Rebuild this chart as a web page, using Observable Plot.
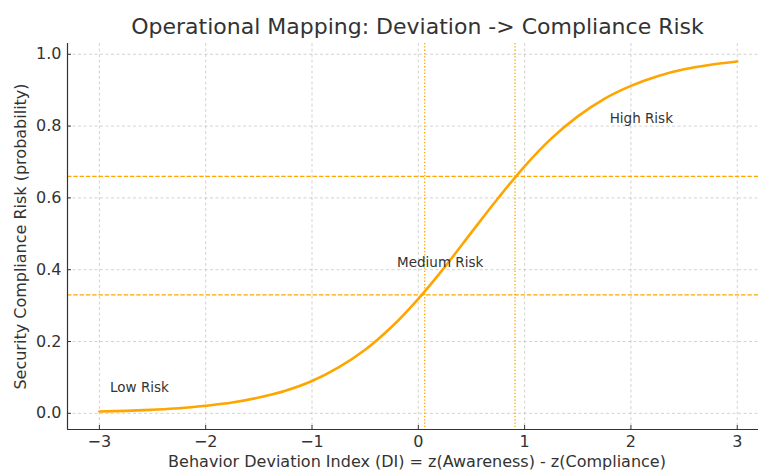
<!DOCTYPE html>
<html>
<head>
<meta charset="utf-8">
<script src="https://cdn.jsdelivr.net/npm/d3@7"></script>
<script src="https://cdn.jsdelivr.net/npm/@observablehq/plot@0.6"></script>
<style>
  html, body { margin: 0; padding: 0; background: #fff; }
  #chart svg { display: block; }
</style>
</head>
<body>
<div id="chart"></div>
<script>
// Behavior Deviation Index values (x) and read-off risk probabilities (y)
const diValues = [-3, -2.75, -2.5, -2.25, -2, -1.75, -1.5, -1.25, -1, -0.75, -0.5, -0.25, 0,
                  0.25, 0.5, 0.75, 1, 1.25, 1.5, 1.75, 2, 2.25, 2.5, 2.75, 3];
const riskValues = [0.005, 0.007, 0.010, 0.014, 0.021, 0.030, 0.044, 0.063, 0.090, 0.128, 0.177, 0.241, 0.319,
                    0.408, 0.504, 0.599, 0.688, 0.765, 0.827, 0.876, 0.912, 0.939, 0.958, 0.971, 0.980];

// Risk thresholds (probability) and corresponding DI cut points
const riskThresholds = [0.33, 0.66];
const diCutPoints = [0.06, 0.91];

// Zone labels
const zoneLabels = ["Low Risk", "Medium Risk", "High Risk"];
const zoneLabelX = [-2.9, -0.2, 1.8];
const zoneLabelY = [0.05, 0.4, 0.8];

// Tick values
const xTicks = [-3, -2, -1, 0, 1, 2, 3];
const yTicks = [0, 0.2, 0.4, 0.6, 0.8, 1.0];

const title = "Operational Mapping: Deviation -> Compliance Risk";
const xLabel = "Behavior Deviation Index (DI) = z(Awareness) - z(Compliance)";
const yLabel = "Security Compliance Risk (probability)";

const curve = diValues.map((x, i) => ({x, y: riskValues[i]}));
const zones = zoneLabels.map((t, i) => ({t, x: zoneLabelX[i], y: zoneLabelY[i]}));

const ORANGE = "#FFA500";
const TEXT = "#333";

const chart = Plot.plot({
  width: 758,
  height: 471,
  marginLeft: 67,
  marginRight: 0,
  marginTop: 43,
  marginBottom: 42,
  style: {fontFamily: "DejaVu Sans", fontSize: "16px", color: TEXT, background: "white"},
  x: {domain: [-3.3, 3.2]},
  y: {domain: [-0.045, 1.03]},
  marks: [
    Plot.gridX(xTicks, {stroke: "#b0b0b0", strokeOpacity: 0.7, strokeWidth: 0.8, strokeDasharray: "3,2.5"}),
    Plot.gridY(yTicks, {stroke: "#b0b0b0", strokeOpacity: 0.7, strokeWidth: 0.8, strokeDasharray: "3,2.5"}),
    Plot.ruleY(riskThresholds, {stroke: ORANGE, strokeWidth: 1.2, strokeDasharray: "4.4,1.9"}),
    Plot.ruleX(diCutPoints, {stroke: ORANGE, strokeWidth: 1.3, strokeDasharray: "1.3,2"}),
    Plot.line(curve, {x: "x", y: "y", stroke: ORANGE, strokeWidth: 2.6, curve: "catmull-rom"}),
    Plot.text(zones, {x: "x", y: "y", text: "t", textAnchor: "start", lineAnchor: "bottom", dy: -3, fontSize: 13.5, fill: TEXT}),
    Plot.axisX(xTicks, {tickSize: -4, tickPadding: 10, fontSize: 16, label: null, stroke: TEXT, fill: TEXT}),
    Plot.axisY(yTicks, {tickSize: -4, tickPadding: 10, fontSize: 16, label: null, tickFormat: ".1f", stroke: TEXT, fill: TEXT}),
    Plot.ruleX([-3.3], {stroke: TEXT, strokeWidth: 1.2}),
    Plot.ruleY([-0.045], {stroke: TEXT, strokeWidth: 1.2}),
    Plot.text([title], {frameAnchor: "top", dy: -17, dx: 4.5, fontSize: 22, fill: TEXT, lineAnchor: "middle"}),
    Plot.text([xLabel], {frameAnchor: "bottom", dy: 32, dx: 4, fontSize: 16, fill: TEXT, lineAnchor: "middle", textAnchor: "middle"}),
    Plot.text([yLabel], {frameAnchor: "left", dx: -47, rotate: -90, fontSize: 16, fill: TEXT, lineAnchor: "middle", textAnchor: "middle"})
  ]
});
document.getElementById("chart").appendChild(chart);
</script>
</body>
</html>
